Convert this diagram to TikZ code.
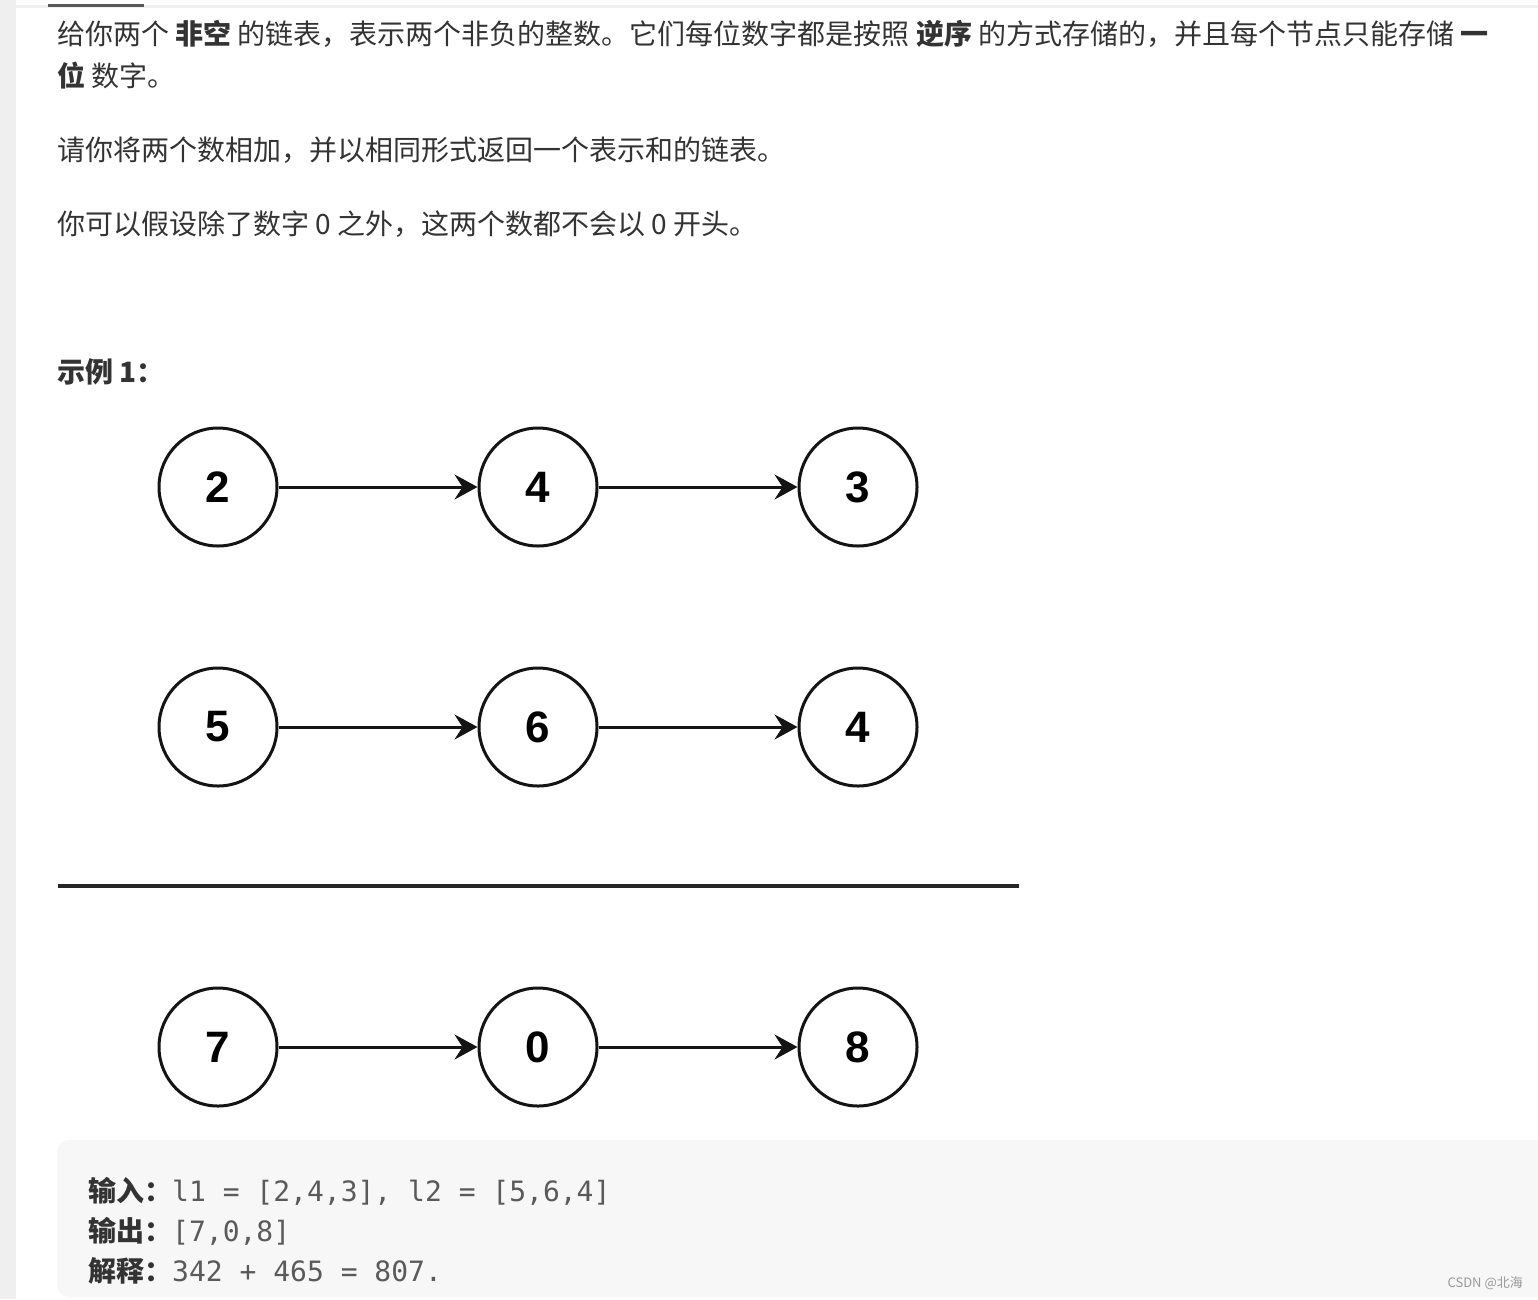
\documentclass[tikz,border=0pt]{standalone}
\usepackage{fontspec}
\setmainfont{Noto Sans CJK SC}
\newfontfamily\digitfont{Liberation Sans}
\newfontfamily\codefont{DejaVu Sans Mono}
\usepackage{xcolor}
\usetikzlibrary{arrows.meta}
\usetikzlibrary{positioning}

\definecolor{textgray}{HTML}{333333}
\definecolor{codegray}{HTML}{5A5A5A}
\definecolor{stripgray}{HTML}{EFEFEF}
\definecolor{codebg}{HTML}{F7F7F7}
\definecolor{markgray}{HTML}{999999}

\begin{document}
\begin{tikzpicture}[x=1pt, y=-1pt, node distance=199pt,
  listnode/.style={circle, draw=black!92, line width=3pt, minimum size=118pt, inner sep=0pt,
    font=\digitfont\bfseries\fontsize{44}{44}\selectfont},
  link/.style={-{Stealth[length=23pt, width=25pt, inset=8pt]}, line width=3pt, black!92},
  para/.style={anchor=west, inner sep=0pt, text=textgray, font=\fontsize{28}{34}\selectfont},
  codeline/.style={anchor=west, inner sep=0pt, text=codegray, font=\fontsize{28}{34}\selectfont}]

\useasboundingbox (0,0) rectangle (1538,1299);

% page frame
\fill[white] (0,0) rectangle (1538,1299);
\fill[stripgray] (0,0) rectangle (16,1299);
\fill[stripgray] (16,5) rectangle (1538,8);
\fill[black!65] (48,4) rectangle (144,7);

% problem text
\node[para] (line1) at (57,34) {给你两个 {\bfseries 非空} 的链表，表示两个非负的整数。它们每位数字都是按照 {\bfseries 逆序} 的方式存储的，并且每个节点只能存储 {\bfseries 一}};
\node[para] (line2) at (57,76) {{\bfseries 位} 数字。};
\node[para] (line3) at (57,150) {请你将两个数相加，并以相同形式返回一个表示和的链表。};
\node[para] (line4) at (57,224) {你可以假设除了数字 0 之外，这两个数都不会以 0 开头。};
\node[para, font=\bfseries\fontsize{28}{34}\selectfont] (title) at (57,372) {示例 1：};

% first list
\node[listnode] (a1) at (218,487) {2};
\node[listnode, right=of a1] (a2) {4};
\node[listnode, right=of a2] (a3) {3};
\draw[link] (a1) -- (a2);
\draw[link] (a2) -- (a3);

% second list
\node[listnode] (b1) at (218,727) {5};
\node[listnode, right=of b1] (b2) {6};
\node[listnode, right=of b2] (b3) {4};
\draw[link] (b1) -- (b2);
\draw[link] (b2) -- (b3);

% sum line
\coordinate (sumL) at (58,886);
\coordinate (sumR) at (1019,886);
\draw[line width=4pt, black!85] (sumL) -- (sumR);

% result list
\node[listnode] (c1) at (218,1047) {7};
\node[listnode, right=of c1] (c2) {0};
\node[listnode, right=of c2] (c3) {8};
\draw[link] (c1) -- (c2);
\draw[link] (c2) -- (c3);

% example block
\fill[codebg, rounded corners=12pt] (57,1140) rectangle (1560,1297);
\node[codeline] (input) at (88,1191) {{\color{textgray}\bfseries 输入：}{\codefont l1 = [2,4,3], l2 = [5,6,4]}};
\node[codeline] (output) at (88,1231) {{\color{textgray}\bfseries 输出：}{\codefont [7,0,8]}};
\node[codeline] (explain) at (88,1271) {{\color{textgray}\bfseries 解释：}{\codefont 342 + 465 = 807.}};

\node[anchor=east, inner sep=0pt, text=markgray, font=\fontsize{13}{15}\selectfont] (mark) at (1523,1283) {CSDN @北海};

\end{tikzpicture}
\end{document}
